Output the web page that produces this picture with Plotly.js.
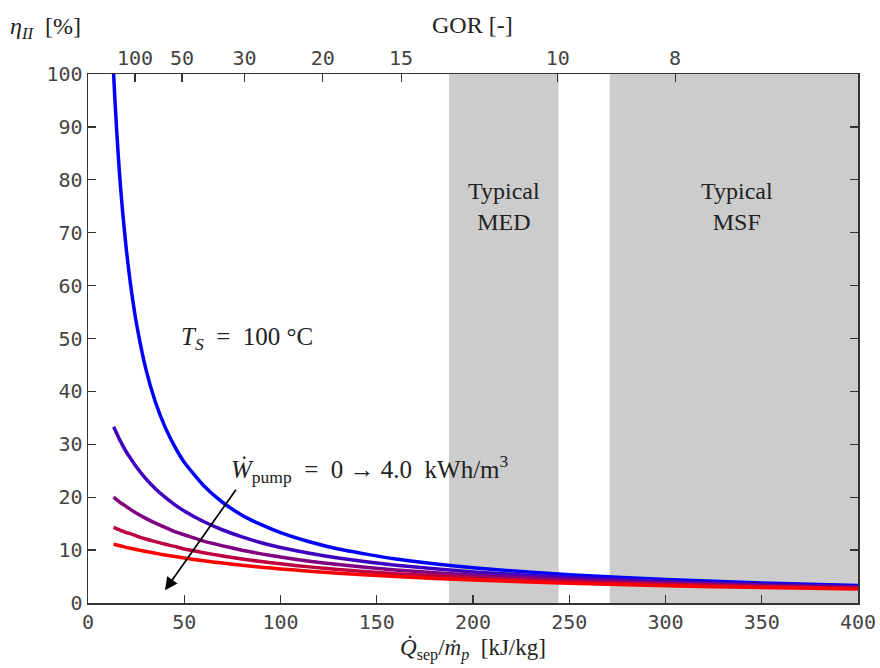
<!DOCTYPE html>
<html><head><meta charset="utf-8">
<script src="https://cdn.plot.ly/plotly-3.0.1.min.js"></script>
<style>html,body{margin:0;padding:0;background:#fff}#chart{width:880px;height:668px}</style>
</head><body><div id="chart"></div>
<script>
// Specific separation heat input [kJ/kg]
const qSep = [13.3, 14, 15, 16, 17, 18, 20, 22, 25, 30, 35, 40, 45, 50, 60, 70, 80, 90, 100, 115, 130, 160, 200, 250, 300, 350, 400];
// Second-law efficiency [%] for pump work 0, 1, 2, 3, 4 kWh/m3
const eta0 = [100, 95.0, 88.7, 83.1, 78.2, 73.9, 66.5, 60.5, 53.2, 44.3, 38.0, 33.3, 29.6, 26.6, 22.2, 19.0, 16.6, 14.8, 13.3, 11.57, 10.2, 8.3, 6.65, 5.32, 4.43, 3.80, 3.33];
const eta1 = [33.3, 32.8, 32.0, 31.2, 30.5, 29.8, 28.5, 27.4, 25.8, 23.5, 21.6, 20.0, 18.6, 17.4, 15.4, 13.8, 12.5, 11.4, 10.5, 9.39, 8.49, 7.13, 5.87, 4.81, 4.07, 3.53, 3.12];
const eta2 = [20.0, 19.8, 19.5, 19.2, 18.9, 18.7, 18.2, 17.7, 17.0, 16.0, 15.1, 14.3, 13.5, 12.9, 11.7, 10.8, 9.98, 9.29, 8.68, 7.91, 7.26, 6.24, 5.25, 4.39, 3.77, 3.30, 2.93];
const eta3 = [14.3, 14.2, 14.0, 13.9, 13.7, 13.6, 13.3, 13.1, 12.7, 12.1, 11.6, 11.1, 10.7, 10.2, 9.51, 8.88, 8.32, 7.83, 7.40, 6.83, 6.34, 5.55, 4.75, 4.03, 3.50, 3.09, 2.77];
const eta4 = [11.1, 11.05, 10.96, 10.87, 10.78, 10.69, 10.5, 10.36, 10.1, 9.75, 9.41, 9.08, 8.78, 8.50, 7.99, 7.54, 7.14, 6.77, 6.44, 6.01, 5.63, 4.99, 4.34, 3.73, 3.27, 2.91, 2.63];
const seriesNames = ['0 kWh/m³', '1 kWh/m³', '2 kWh/m³', '3 kWh/m³', '4 kWh/m³'];
const seriesColors = ['#0000ff', '#4000bf', '#800080', '#bf0040', '#ff0000'];
// Top axis: GOR ticks and the heat input they correspond to
const gorTicks = [100, 50, 30, 20, 15, 10, 8];
const latentHeat = 2440;
const gorTickPos = gorTicks.map(g => latentHeat / g);
// Typical process ranges [kJ/kg]
const medRange = [187.5, 244.5];
const msfRange = [271, 400];

const allEta = [eta0, eta1, eta2, eta3, eta4];
const traces = allEta.map((e, i) => ({
  x: qSep, y: e, type: 'scatter', mode: 'lines', name: seriesNames[i],
  line: {color: seriesColors[i], width: 3.5, shape: 'spline', smoothing: 0.5},
  xaxis: 'x', yaxis: 'y', showlegend: false, hoverinfo: 'x+y'
}));
// invisible trace to activate top axis
traces.push({x: [0, 400], y: [0, 0], xaxis: 'x2', yaxis: 'y', mode: 'none', type: 'scatter', showlegend: false, hoverinfo: 'skip'});

const tickFont = {family: 'DejaVu Sans Mono', size: 20, color: '#444'};
const serif = 'Liberation Serif, DejaVu Serif, serif';
const txt = {family: serif, size: 24, color: '#222'};
const layout = {
  width: 880, height: 668,
  margin: {l: 88, r: 22, t: 74, b: 65},
  paper_bgcolor: '#fff', plot_bgcolor: '#fff',
  showlegend: false,
  xaxis: {range: [0, 400], tickvals: [0, 50, 100, 150, 200, 250, 300, 350, 400],
    ticks: 'inside', ticklen: 8, tickwidth: 1.2, tickcolor: '#333',
    showline: true, linecolor: '#333', linewidth: 1.5, showgrid: false, zeroline: false,
    tickfont: tickFont, mirror: false,
    title: {text: '<i>Q̇</i><sub>sep</sub>/<i>ṁ<sub>p</sub></i>  [kJ/kg]', font: {family: serif, size: 23, color: '#222'}, standoff: 6}},
  xaxis2: {range: [0, 400], overlaying: 'x', side: 'top', anchor: 'y',
    tickvals: gorTickPos, ticktext: gorTicks.map(String),
    ticks: 'inside', ticklen: 8, tickwidth: 1.2, tickcolor: '#333',
    showline: true, linecolor: '#333', linewidth: 1.5, showgrid: false, zeroline: false,
    tickfont: tickFont},
  yaxis: {range: [0, 100], tickvals: [0, 10, 20, 30, 40, 50, 60, 70, 80, 90, 100],
    ticks: 'inside', ticklen: 8, tickwidth: 1.2, tickcolor: '#333', mirror: 'ticks',
    showline: true, linecolor: '#333', linewidth: 1.5, showgrid: false, zeroline: false,
    tickfont: tickFont},
  shapes: [
    {type: 'rect', xref: 'x', yref: 'y', x0: medRange[0], x1: medRange[1], y0: 0, y1: 100, fillcolor: '#cccccc', line: {width: 0}, layer: 'below'},
    {type: 'rect', xref: 'x', yref: 'y', x0: msfRange[0], x1: msfRange[1], y0: 0, y1: 100, fillcolor: '#cccccc', line: {width: 0}, layer: 'below'}
  ],
  annotations: [
    {xref: 'paper', yref: 'paper', x: -0.104, y: 1.087, xanchor: 'left', yanchor: 'middle', showarrow: false,
     text: '<i>η<sub>II</sub></i>  [%]', font: txt},
    {xref: 'paper', yref: 'paper', x: 0.499, y: 1.093, xanchor: 'center', yanchor: 'middle', showarrow: false,
     text: 'GOR [-]', font: txt},
    {xref: 'x', yref: 'y', x: 216, y: 75, showarrow: false, text: 'Typical<br>MED', font: txt},
    {xref: 'x', yref: 'y', x: 337, y: 75, showarrow: false, text: 'Typical<br>MSF', font: txt},
    {xref: 'x', yref: 'y', x: 82.5, y: 50, showarrow: false, text: '<i>T<sub>S</sub></i>  =  100 °C',
     font: {family: serif, size: 25, color: '#222'}},
    {xref: 'x', yref: 'y', x: 73.5, y: 25.3, xanchor: 'left', showarrow: false,
     text: '<i>Ẇ</i><sub>pump</sub>  =  0 → 4.0  kWh/m<sup>3</sup>',
     font: {family: serif, size: 25, color: '#222'}},
    {xref: 'x', yref: 'y', x: 40, y: 2.4, axref: 'x', ayref: 'y', ax: 77.4, ay: 21.7,
     text: '', showarrow: true, arrowhead: 2, arrowsize: 1.5, arrowwidth: 1.7, arrowcolor: '#000'}
  ]
};
Plotly.newPlot('chart', traces, layout, {displayModeBar: false, staticPlot: true});
</script></body></html>
